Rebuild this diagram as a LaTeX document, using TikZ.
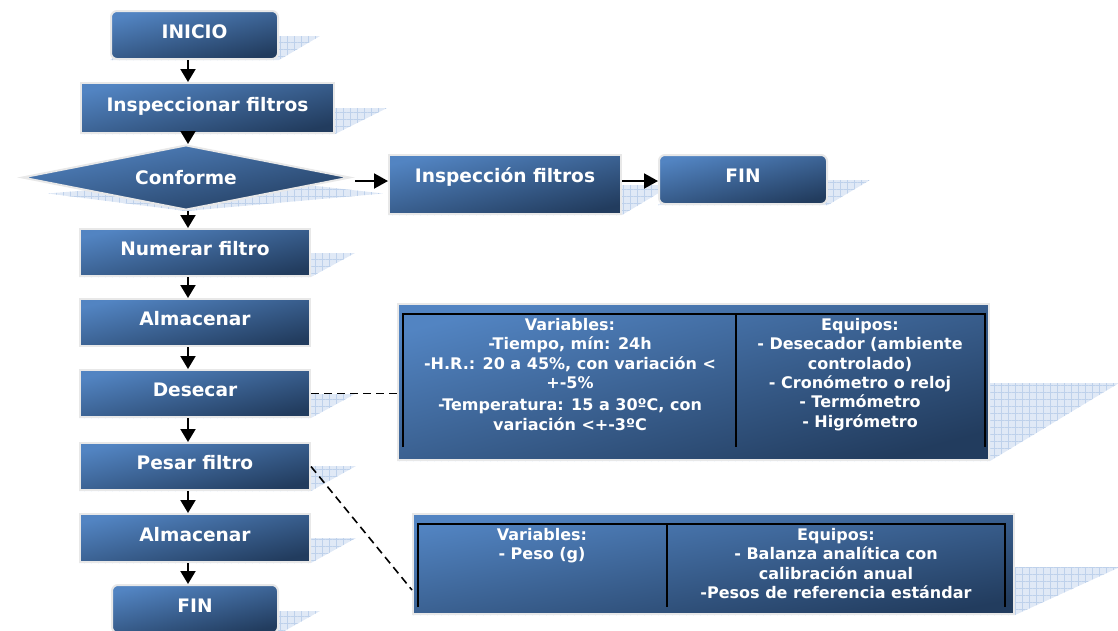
\documentclass[tikz,border=0pt]{standalone}
\usepackage{fontspec}
\setmainfont{DejaVu Sans}
\usetikzlibrary{shapes.geometric,arrows.meta,patterns.meta,calc}
\pgfdeclarelayer{background}
\pgfsetlayers{background,main}
\definecolor{boxlight}{RGB}{82,132,194}
\definecolor{boxdark}{RGB}{34,60,94}
\definecolor{glow}{RGB}{232,232,232}
\definecolor{shbg}{RGB}{224,233,246}
\definecolor{shline}{RGB}{190,209,235}
\tikzset{
  shadedbox/.style={draw=glow, line width=2pt, top color=boxlight, bottom color=boxdark, shading angle=13},
  flowbox/.style={shadedbox, text=white, font=\fontsize{18.6}{22}\selectfont\bfseries, inner sep=0pt,
    text height=13pt, text depth=7pt, anchor=north west},
  tabtext/.style={text=white, font=\fontsize{16}{19.4}\selectfont\bfseries, align=center, inner sep=0pt, anchor=north},
  arr/.style={-{Triangle[width=15pt,length=13pt]}, line width=2pt, black},
  harr/.style={-{Triangle[width=15pt,length=14pt]}, line width=2pt, black},
  dashline/.style={line width=1.6pt, dash pattern=on 8pt off 5pt, black},
  frame/.style={line width=2pt, black},
  shadowst/.style={fill=shbg,
    postaction={pattern={Lines[distance=7pt,angle=0,line width=0.5pt]}, pattern color=shline},
    postaction={pattern={Lines[distance=7pt,angle=90,line width=0.5pt]}, pattern color=shline}}
}
\newcommand\boxshadow[3]{\fill[shadowst] (#1.south west) -- (#1.south east) -- ([shift={(#2,-#3)}]#1.south east) -- ([shift={(#2,-#3)}]#1.south west) -- cycle;}
\begin{document}
\begin{tikzpicture}[x=1pt,y=-1pt]
\useasboundingbox (0,0) rectangle (1118,630);
\coordinate (ax) at (188,0);
\coordinate (cy) at (0,181);
% flow nodes
\node[flowbox, rounded corners=6pt, minimum width=167pt, minimum height=48pt] (inicio) at (110,10) {INICIO};
\node[flowbox, minimum width=253pt, minimum height=50pt] (insp) at (80,82) {Inspeccionar filtros};
\node[flowbox, diamond, aspect=5, minimum width=328pt, minimum height=65pt, anchor=center, text height=14pt, text depth=0pt, shading angle=11] (conf) at (186,177.5) {Conforme};
\node[flowbox, minimum width=232pt, minimum height=59pt, text height=14pt, text depth=18pt] (inspf) at (388,154) {Inspección filtros};
\node[flowbox, rounded corners=6pt, minimum width=168pt, minimum height=49pt] (fin1) at (658,154) {FIN};
\node[flowbox, minimum width=230pt, minimum height=47pt] (num) at (79,228) {Numerar filtro};
\node[flowbox, minimum width=230pt, minimum height=47pt] (alm1) at (79,298) {Almacenar};
\node[flowbox, minimum width=230pt, minimum height=47pt] (des) at (79,369) {Desecar};
\node[flowbox, minimum width=230pt, minimum height=47pt] (pes) at (79,442) {Pesar filtro};
\node[flowbox, minimum width=230pt, minimum height=48pt] (alm2) at (79,513) {Almacenar};
\node[flowbox, rounded corners=6pt, minimum width=166pt, minimum height=48pt] (fin2) at (111,584) {FIN};
% table boxes
\node[shadedbox, minimum width=591pt, minimum height=156pt, anchor=north west, inner sep=0pt, shading angle=15] (tab1) at (397,303) {};
\node[shadedbox, minimum width=601pt, minimum height=100pt, anchor=north west, inner sep=0pt, shading angle=10] (tab2) at (412,513) {};
% table frames
\draw[frame] (403,447) -- (403,314) -- (985,314) -- (985,447);
\draw[frame] (736,314) -- (736,447);
\draw[frame] (418,607) -- (418,524) -- (1005,524) -- (1005,607);
\draw[frame] (667,524) -- (667,607);
% table texts
\node[tabtext] (t1a) at (570,318) {Variables:\\-Tiempo, mín: 24h\\-H.R.: 20 a 45\%, con variación <\\+-5\%\\[3pt]-Temperatura: 15 a 30ºC, con\\variación <+-3ºC};
\node[tabtext] (t1b) at (860,318) {Equipos:\\- Desecador (ambiente\\controlado)\\- Cronómetro o reloj\\- Termómetro\\- Higrómetro};
\node[tabtext] (t2a) at (542,528) {Variables:\\- Peso (g)};
\node[tabtext] (t2b) at (836,528) {Equipos:\\- Balanza analítica con\\calibración anual\\-Pesos de referencia estándar};
% shadows
\begin{pgfonlayer}{background}
\boxshadow{inicio}{41}{24}
\boxshadow{insp}{52}{26}
\boxshadow{inspf}{50}{30}
\boxshadow{fin1}{42}{25}
\boxshadow{num}{44}{24}
\boxshadow{des}{44}{24}
\boxshadow{pes}{45}{25}
\boxshadow{alm2}{45}{25}
\boxshadow{fin2}{41}{23}
\boxshadow{tab1}{129}{78}
\boxshadow{tab2}{105}{48}
\fill[shadowst] (conf.south) -- ([shift={(27,16)}]conf.west) -- ([shift={(55,0)}]conf.center) -- ([shift={(32,16)}]conf.east) -- cycle;
\end{pgfonlayer}
% arrows
\draw[arr] (inicio.south -| ax) -- (insp.north -| ax);
\draw[arr] (insp.south -| ax) -- (conf.north -| ax);
\draw[arr] (conf.south -| ax) -- (num.north -| ax);
\draw[arr] (num.south -| ax) -- (alm1.north -| ax);
\draw[arr] (alm1.south -| ax) -- (des.north -| ax);
\draw[arr] (des.south -| ax) -- (pes.north -| ax);
\draw[arr] (pes.south -| ax) -- (alm2.north -| ax);
\draw[arr] (alm2.south -| ax) -- (fin2.north -| ax);
\draw[harr] ([xshift=4pt]conf.east |- cy) -- (inspf.west |- cy);
\draw[harr] (inspf.east |- cy) -- (fin1.west |- cy);
% dashed links
\draw[dashline] (des.east) -- (des.east -| tab1.west);
\draw[dashline] (pes.east) -- ([shift={(0,-25)}]tab2.south west);
\end{tikzpicture}
\end{document}
